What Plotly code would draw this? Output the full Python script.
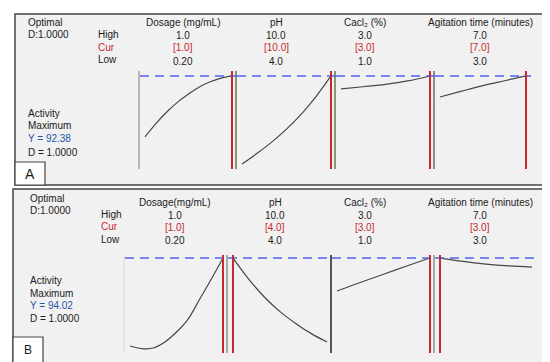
import plotly.graph_objects as go

W, H = 550, 362

# ---------------- data ----------------
factors_A = ["Dosage (mg/mL)", "pH", "Cacl₂ (%)", "Agitation time (minutes)"]
factors_B = ["Dosage(mg/mL)", "pH", "Cacl₂ (%)", "Agitation time (minutes)"]
high_vals = [1.0, 10.0, 3.0, 7.0]
low_vals = [0.20, 4.0, 1.0, 3.0]
high_lbl = ["1.0", "10.0", "3.0", "7.0"]
low_lbl = ["0.20", "4.0", "1.0", "3.0"]
cur_A = [1.0, 10.0, 3.0, 7.0]
cur_B = [1.0, 4.0, 3.0, 3.0]
cur_lbl_A = ["[1.0]", "[10.0]", "[3.0]", "[7.0]"]
cur_lbl_B = ["[1.0]", "[4.0]", "[3.0]", "[3.0]"]
y_opt_A = 92.38
y_opt_B = 94.02

# panel A response curves
dose_x_A = [0.2, 0.3, 0.4, 0.5, 0.6, 0.7, 0.8, 0.9, 1.0]
dose_y_A = [61.9, 68.6, 74.4, 79.3, 83.4, 86.9, 89.5, 91.3, 92.4]
ph_x_A = [4, 5, 6, 7, 8, 9, 10]
ph_y_A = [48.4, 53.6, 59.3, 65.8, 73.3, 82.2, 92.4]
ca_x_A = [1.0, 1.5, 2.0, 2.5, 3.0]
ca_y_A = [85.9, 87.0, 88.2, 89.9, 92.4]
ag_x_A = [3, 4, 5, 6, 7]
ag_y_A = [81.9, 84.8, 87.6, 90.0, 92.4]

# panel B response curves
dose_x_B = [0.2, 0.3, 0.4, 0.5, 0.6, 0.7, 0.8, 0.9, 1.0]
dose_y_B = [50.0, 48.7, 49.0, 52.0, 57.0, 63.5, 73.5, 83.5, 94.0]
ph_x_B = [4, 5, 6, 7, 8, 9, 10]
ph_y_B = [94.0, 83.5, 74.5, 67.2, 61.3, 56.2, 52.0]
ca_x_B = [1.0, 1.5, 2.0, 2.5, 3.0]
ca_y_B = [77.5, 81.8, 85.9, 90.0, 94.0]
ag_x_B = [3, 4, 5, 6, 7]
ag_y_B = [94.0, 92.3, 91.0, 90.1, 89.5]

curves_A = [(dose_x_A, dose_y_A), (ph_x_A, ph_y_A), (ca_x_A, ca_y_A), (ag_x_A, ag_y_A)]
curves_B = [(dose_x_B, dose_y_B), (ph_x_B, ph_y_B), (ca_x_B, ca_y_B), (ag_x_B, ag_y_B)]

# ---------------- layout helpers ----------------
def px(x):
    return x / W

def py(y):
    return 1 - y / H

FONT = "Liberation Sans, Arial, Helvetica, sans-serif"
RED = "#c62a2f"
BLUE_TXT = "#1f56a8"
DASH_BLUE = "#5060ee"

fig = go.Figure()
layout = dict(
    width=W, height=H,
    margin=dict(l=0, r=0, t=0, b=0),
    paper_bgcolor="white", plot_bgcolor="white",
    showlegend=False,
    font=dict(family=FONT, size=10, color="#1a1a1a"),
)
shapes = []
annotations = []

# panel frames
shapes.append(dict(type="rect", xref="paper", yref="paper", layer="below",
                   x0=px(7), x1=px(541), y0=py(177), y1=py(6),
                   fillcolor="#f1f1f1", line=dict(color="#444", width=1.5)))
shapes.append(dict(type="rect", xref="paper", yref="paper", layer="below",
                   x0=px(5), x1=px(543), y0=py(355), y1=py(181),
                   fillcolor="#f1f1f1", line=dict(color="#444", width=1.5)))

panels = [
    dict(doms=[(132, 229), (229, 328), (328, 427), (427, 523)], ytop=63, ybot=161,
         yr=(y_opt_A - 93 * 0.5, y_opt_A + 5 * 0.5), curves=curves_A, cur=cur_A,
         sep=["#b8b8b8", "#7f9a6e", "#869a70", "#8c8c8c"], yopt=y_opt_A),
    dict(doms=[(117, 220), (220, 324), (324, 427), (427, 529)], ytop=247, ybot=345,
         yr=(y_opt_B - 95 * 0.5, y_opt_B + 3 * 0.5), curves=curves_B, cur=cur_B,
         sep=["#e6e6e6", "#a8a8a8", "#555555", "#a8a8a8"], yopt=y_opt_B),
]

k = 0
for p in panels:
    for j in range(4):
        k += 1
        xa = "x" if k == 1 else f"x{k}"
        ya = "y" if k == 1 else f"y{k}"
        d0, d1 = p["doms"][j]
        wpx = d1 - d0
        lo, hi = low_vals[j], high_vals[j]
        pad = 5 * (hi - lo) / (wpx - 10)
        layout["xaxis" if k == 1 else f"xaxis{k}"] = dict(
            domain=[px(d0), px(d1)], range=[lo - pad, hi + pad],
            anchor=ya, showgrid=False, zeroline=False, showticklabels=False,
            ticks="", showline=False, fixedrange=True)
        layout["yaxis" if k == 1 else f"yaxis{k}"] = dict(
            domain=[py(p["ybot"]), py(p["ytop"])], range=list(p["yr"]),
            anchor=xa, showgrid=False, zeroline=False, showticklabels=False,
            ticks="", showline=True, linecolor=p["sep"][j], linewidth=1.6,
            mirror=False, fixedrange=True)
        cx, cy = p["curves"][j]
        fig.add_trace(go.Scatter(x=cx, y=cy, mode="lines", xaxis=xa, yaxis=ya,
                                 line=dict(color="#474747", width=1.2, shape="spline"),
                                 hoverinfo="skip"))
        # optimum dashed line
        shapes.append(dict(type="line", xref=f"{xa} domain", yref=ya,
                           x0=0, x1=1, y0=p["yopt"], y1=p["yopt"],
                           line=dict(color=DASH_BLUE, width=1.4, dash="9px,6px")))
        # current setting line
        shapes.append(dict(type="line", xref=xa, yref=f"{ya} domain",
                           x0=p["cur"][j], x1=p["cur"][j], y0=0, y1=1,
                           line=dict(color=RED, width=2)))

def txt(x, y, s, color="#1a1a1a", anchor="left", size=10):
    annotations.append(dict(x=px(x), y=py(y), xref="paper", yref="paper",
                            text=s, showarrow=False, xanchor=anchor, yanchor="middle",
                            borderpad=0,
                            font=dict(family=FONT, size=size, color=color)))

# ---- panel A text ----
txt(19, 15, "Optimal")
txt(19, 27, "D:1.0000")
txt(89, 27, "High")
txt(89, 39.5, "Cur", RED)
txt(89, 52, "Low")
colx_A = [175, 268, 357, 472]
for j in range(4):
    txt(colx_A[j], 15, factors_A[j], anchor="center")
    txt(colx_A[j], 27.5, high_lbl[j], anchor="center")
    txt(colx_A[j], 40, cur_lbl_A[j], RED, anchor="center")
    txt(colx_A[j], 53, low_lbl[j], anchor="center")
txt(19, 105, "Activity")
txt(19, 118, "Maximum")
txt(19, 130.5, f"Y = {y_opt_A:.2f}", BLUE_TXT)
txt(19, 144, "D = 1.0000")

# ---- panel B text ----
txt(21, 190.5, "Optimal")
txt(21, 202.5, "D:1.0000")
txt(92, 206.5, "High")
txt(92, 219, "Cur", RED)
txt(92, 231.5, "Low")
colx_B = [167, 267, 357, 472]
for j in range(4):
    txt(colx_B[j], 194.5, factors_B[j], anchor="center")
    txt(colx_B[j], 207, high_lbl[j], anchor="center")
    txt(colx_B[j], 219.5, cur_lbl_B[j], RED, anchor="center")
    txt(colx_B[j], 232, low_lbl[j], anchor="center")
txt(21, 272, "Activity")
txt(21, 285, "Maximum")
txt(21, 297.5, f"Y = {y_opt_B:.2f}", BLUE_TXT)
txt(21, 310, "D = 1.0000")

# letter boxes
shapes.append(dict(type="rect", xref="paper", yref="paper",
                   x0=px(7), x1=px(37), y0=py(177), y1=py(154),
                   fillcolor="white", line=dict(color="#444", width=1.2)))
shapes.append(dict(type="rect", xref="paper", yref="paper",
                   x0=px(5), x1=px(35), y0=py(355), y1=py(329),
                   fillcolor="white", line=dict(color="#444", width=1.2)))
txt(22, 166, "A", anchor="center", size=14)
txt(20, 342, "B", anchor="center", size=12)

layout["shapes"] = shapes
layout["annotations"] = annotations
fig.update_layout(**layout)
fig.write_html("out.html")
